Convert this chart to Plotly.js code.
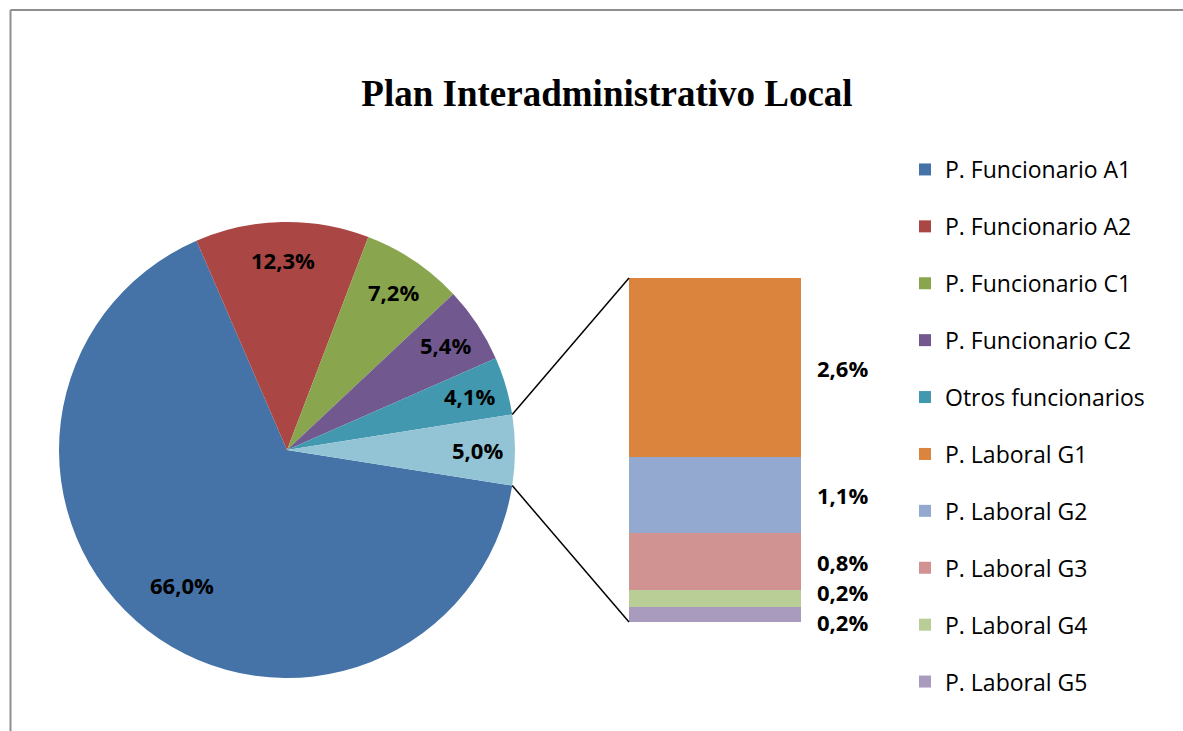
<!DOCTYPE html>
<html><head><meta charset="utf-8">
<script src="https://cdn.plot.ly/plotly-3.0.1.min.js"></script>
<style>html,body{margin:0;padding:0;background:#fff}#chart{width:1183px;height:731px}</style>
</head><body><div id="chart"></div>
<script>
// ---- data ----
const pieLabels = ['P. Funcionario A1','P. Funcionario A2','P. Funcionario C1','P. Funcionario C2','Otros funcionarios'];
const pieValues = [66.0, 12.3, 7.2, 5.4, 4.1];
const barLabels = ['P. Laboral G1','P. Laboral G2','P. Laboral G3','P. Laboral G4','P. Laboral G5'];
const barValues = [2.6, 1.1, 0.83, 0.24, 0.22];
const otherLabel = 'Otros';
const titleText = 'Plan Interadministrativo Local';

// ---- styles ----
const pieColors = ['#4572A7','#AA4643','#89A54E','#71588F','#4198AF'];
const otherColor = '#93C4D5';
const barColors = ['#DB843D','#93A9CF','#D19392','#B9CD96','#A99BBD'];
const labelFont = {family:'Open Sans', size:22, color:'#000', weight:'bold'};

// ---- layout geometry (pixels) ----
const W = 1183, H = 731;
const PIE = {cx:287, cy:450, r:228};
const BAR = {x0:629, x1:801, y0:278, y1:622};
const px = x => x / W, py = y => 1 - y / H;

const sum = a => a.reduce((s, v) => s + v, 0);
const fmt = v => v.toFixed(1).replace('.', ',') + '%';

const otherValue = sum(barValues);
const allValues = pieValues.concat([otherValue]);
const allLabels = pieLabels.concat([otherLabel]);
const total = sum(allValues);
const otherDeg = otherValue / total * 360;
const rotation = 90 + otherDeg / 2;

const traces = [];
traces.push({
  type:'pie', values: allValues, labels: allLabels, sort:false, direction:'clockwise',
  rotation: rotation, textinfo:'none', showlegend:false,
  marker:{colors: pieColors.concat([otherColor]), line:{width:0}},
  domain:{x:[px(PIE.cx - PIE.r), px(PIE.cx + PIE.r)], y:[py(PIE.cy + PIE.r), py(PIE.cy - PIE.r)]},
  hoverinfo:'label+value'
});
// legend-only entries for pie categories
pieLabels.forEach((l, i) => traces.push({
  type:'bar', x:['b'], y:[null], name:l, marker:{color:pieColors[i]},
  legendgroup:'p'+i, showlegend:true, xaxis:'x', yaxis:'y', hoverinfo:'skip'
}));
const barTotal = sum(barValues);
barLabels.forEach((l, i) => traces.push({
  type:'bar', x:['b'], y:[barValues[i]], name:l, marker:{color:barColors[i], line:{width:0}},
  width:1, legendgroup:'b'+i, showlegend:true, xaxis:'x', yaxis:'y', hoverinfo:'name+y'
}));

const annotations = [];
// pie labels
let cum = rotation;
allValues.forEach((v, i) => {
  const deg = v / total * 360;
  const mid = (cum + deg / 2) * Math.PI / 180;
  cum += deg;
  const f = v / total > 0.5 ? 0.75 : 0.835;
  annotations.push({
    xref:'paper', yref:'paper', x: px(PIE.cx + PIE.r * f * Math.sin(mid)), y: py(PIE.cy - PIE.r * f * Math.cos(mid)),
    text: fmt(v), showarrow:false, xanchor:'center', yanchor:'middle', font: labelFont
  });
});
// bar labels, centred on their segments, spread apart where they would collide
const pxPerUnit = (BAR.y1 - BAR.y0) / barTotal;
const minGap = 30 / pxPerUnit;
let acc = 0;
const ys = barValues.map(v => { const c = acc + v / 2; acc += v; return c; });
for (let it = 0; it < 20; it++) {
  for (let i = 1; i < ys.length; i++) {
    const d = ys[i] - ys[i-1];
    if (d < minGap) { const m = (minGap - d) / 2; ys[i-1] -= m; ys[i] += m; }
  }
}
barValues.forEach((v, i) => {
  annotations.push({
    xref:'paper', yref:'y', x: px(BAR.x1 + 14), y: ys[i], text: fmt(v), showarrow:false,
    xanchor:'left', yanchor:'middle', font: labelFont
  });
});

const h = otherDeg / 2 * Math.PI / 180;
const ex = PIE.cx + PIE.r * Math.cos(h), eyTop = PIE.cy - PIE.r * Math.sin(h), eyBot = PIE.cy + PIE.r * Math.sin(h);
const shapes = [
  {type:'line', xref:'paper', yref:'paper', x0:px(ex), y0:py(eyTop), x1:px(BAR.x0), y1:py(BAR.y0), line:{color:'#000', width:1.5}},
  {type:'line', xref:'paper', yref:'paper', x0:px(ex), y0:py(eyBot), x1:px(BAR.x0), y1:py(BAR.y1), line:{color:'#000', width:1.5}},
  {type:'line', xref:'paper', yref:'paper', x0:px(10.5), y0:py(10), x1:1.05, y1:py(10), line:{color:'#8e8e8e', width:2}},
  {type:'line', xref:'paper', yref:'paper', x0:px(10.5), y0:py(10), x1:px(10.5), y1:-0.05, line:{color:'#8e8e8e', width:2}}
];

const layout = {
  width:W, height:H, margin:{l:0, r:0, t:0, b:0}, paper_bgcolor:'#fff', plot_bgcolor:'rgba(0,0,0,0)',
  title:{text:titleText, x:px(607), xanchor:'center', xref:'paper', y:py(93), yanchor:'middle', yref:'paper',
    font:{family:'Liberation Serif', size:37, color:'#000', weight:'bold'}},
  barmode:'stack', bargap:0,
  xaxis:{domain:[px(BAR.x0), px(BAR.x1)], range:[-0.5, 0.5], visible:false, fixedrange:true, type:'category'},
  yaxis:{domain:[py(BAR.y1), py(BAR.y0)], range:[barTotal, 0], visible:false, fixedrange:true},
  legend:{x:px(905), xanchor:'left', y:py(148), yanchor:'top', traceorder:'grouped', tracegroupgap:24,
    font:{family:'Open Sans', size:23, color:'#000'}, bgcolor:'rgba(0,0,0,0)'},
  annotations: annotations, shapes: shapes, showlegend:true
};
Plotly.newPlot('chart', traces, layout, {displayModeBar:false, staticPlot:true});
</script></body></html>
